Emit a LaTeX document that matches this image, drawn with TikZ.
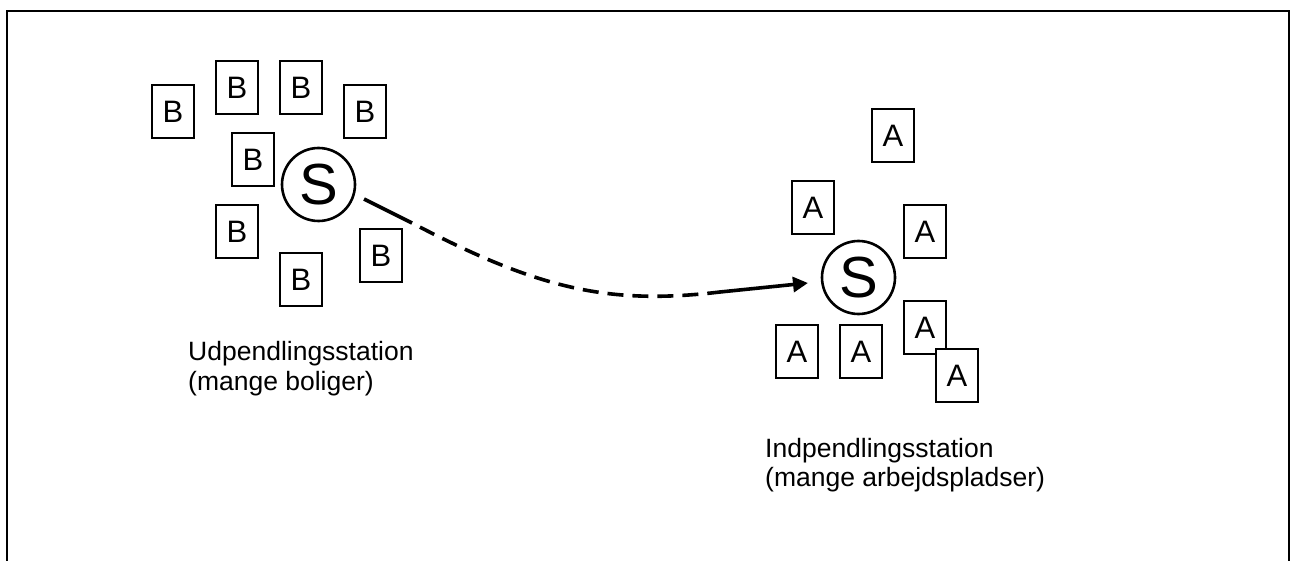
\documentclass[tikz,border=0pt]{standalone}
\usepackage{fontspec}
\setmainfont{Liberation Sans}
\usetikzlibrary{arrows.meta,calc}
\begin{document}
\begin{tikzpicture}[x=1pt,y=-1pt,
  house/.style={draw,line width=1.4pt,fill=white,minimum width=42pt,minimum height=53pt,inner sep=0pt,font=\fontsize{31}{31}\selectfont},
  station/.style={draw,circle,line width=2.6pt,minimum size=73pt,inner sep=0pt,font=\fontsize{58}{58}\selectfont},
  label/.style={anchor=base west,inner sep=0pt,font=\fontsize{26.5}{30}\selectfont},
  flow/.style={line width=3.6pt},
  frame/.style={line width=2pt}]
\useasboundingbox (0,0) rectangle (1290,561);
\coordinate (fbl) at (6.5,561);
\coordinate (ftl) at (6.5,11.5);
\coordinate (ftr) at (1288.5,11.5);
\coordinate (fbr) at (1288.5,561);
\draw[frame] (fbl) -- (ftl) -- (ftr) -- (fbr);
% left cluster
\node[house] (b1) at (173,111.5) {B};
\node[house] (b2) at (237,87.5) {B};
\node[house] (b3) at (301,87.5) {B};
\node[house] (b4) at (365,111.5) {B};
\node[house] (b5) at (253,159.5) {B};
\node[house] (b6) at (237,231.5) {B};
\node[house] (b7) at (301,279.5) {B};
\node[house] (b8) at (381,255.5) {B};
\node[station] (s1) at (318.5,184.5) {S};
% right cluster
\node[house] (a1) at (893,135.5) {A};
\node[house] (a2) at (813,207.5) {A};
\node[house] (a3) at (925,231.5) {A};
\node[house] (a4) at (797,351.5) {A};
\node[house] (a5) at (861,351.5) {A};
\node[house] (a6) at (925,327.5) {A};
\node[house] (a7) at (957,375.5) {A};
\node[station] (s2) at (858.5,277.5) {S};
% labels
\node[label] (lu1) at (188,360) {Udpendlingsstation};
\node[label] (lu2) at (188,390) {(mange boliger)};
\node[label] (li1) at (765,457) {Indpendlingsstation};
\node[label] (li2) at (765,486) {(mange arbejdspladser)};
% flow arrow
\coordinate (f0) at ($(s1)+(45.5,14.5)$);
\coordinate (f1) at (412,223);
\coordinate (f2) at (720,292);
\coordinate (f3) at ($(s2)+(-50.5,5.5)$);
\draw[flow] (f0) -- (f1);
\draw[flow,dash pattern=on 16pt off 9pt,dash phase=-9pt] (f1) .. controls (540,290) and (610,305) .. (f2);
\draw[flow,-{Triangle[length=15pt,width=15pt]}] (f2) -- (f3);
\end{tikzpicture}
\end{document}
